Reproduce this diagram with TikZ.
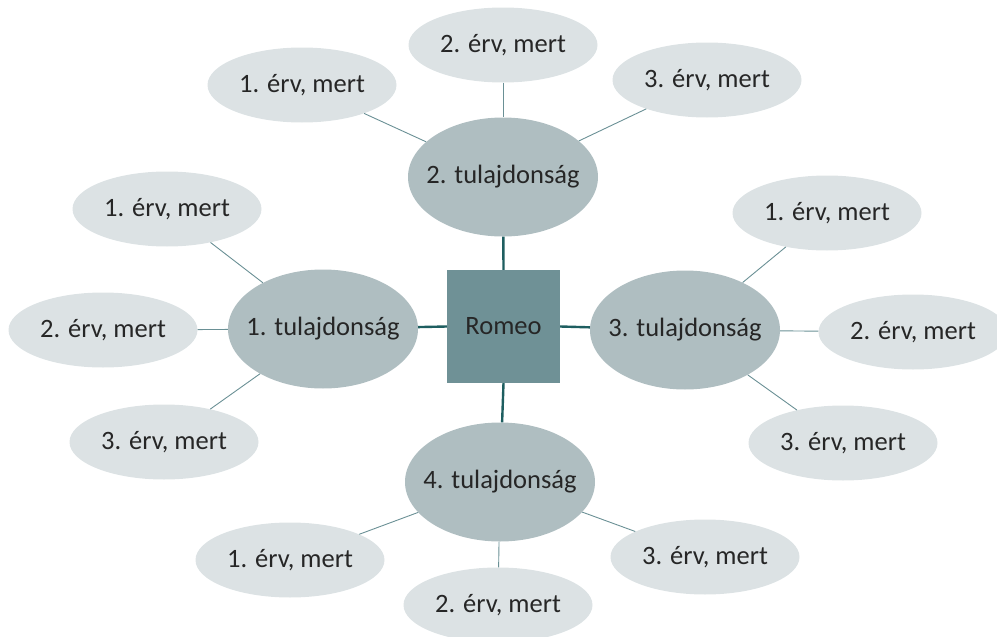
\documentclass[tikz,border=0pt]{standalone}
\usepackage{fontspec}
\setmainfont{Carlito}
\usetikzlibrary{shapes.geometric}
\definecolor{centerfill}{HTML}{6F9196}
\definecolor{propfill}{HTML}{AFBEC1}
\definecolor{leaffill}{HTML}{DCE2E4}
\definecolor{thickline}{HTML}{1E5E60}
\definecolor{thinline}{HTML}{6A9095}
\definecolor{txt}{HTML}{262626}
\tikzset{
  every node/.style={text=txt, font=\fontsize{26.5}{30}\selectfont},
  center/.style={rectangle, fill=centerfill, minimum width=113pt, minimum height=113pt, inner sep=0pt},
  prop/.style={ellipse, fill=propfill, minimum width=190pt, minimum height=119pt, inner sep=0pt},
  leaf/.style={ellipse, fill=leaffill, minimum width=189pt, minimum height=75pt, inner sep=0pt},
  thick link/.style={draw=thickline, line width=2.4pt},
  thin link/.style={draw=thinline, line width=0.9pt},
}
\begin{document}
\begin{tikzpicture}[x=1pt,y=-1pt]
\useasboundingbox (0,0) rectangle (997,637);
% center
\node[center] (c) at (503.5,326.5) {Romeo};
% properties
\node[prop] (p1) at (323,329) {\makebox[0pt]{1. tulajdonság}};
\node[prop] (p2) at (503,177) {\makebox[0pt]{2. tulajdonság}};
\node[prop] (p3) at (685,330) {\makebox[0pt]{3. tulajdonság}};
\node[prop] (p4) at (500,482) {\makebox[0pt]{4. tulajdonság}};
% leaves
\node[leaf] (a1) at (302,85) {\makebox[0pt]{1. érv, mert}};
\node[leaf] (a2) at (503,45) {\makebox[0pt]{2. érv, mert}};
\node[leaf] (a3) at (707,80) {\makebox[0pt]{3. érv, mert}};
\node[leaf] (b1) at (167,209) {\makebox[0pt]{1. érv, mert}};
\node[leaf] (b2) at (103,330) {\makebox[0pt]{2. érv, mert}};
\node[leaf] (b3) at (164,442) {\makebox[0pt]{3. érv, mert}};
\node[leaf] (r1) at (827,213) {\makebox[0pt]{1. érv, mert}};
\node[leaf] (r2) at (913,332) {\makebox[0pt]{2. érv, mert}};
\node[leaf] (r3) at (843,443) {\makebox[0pt]{3. érv, mert}};
\node[leaf] (d1) at (290,560) {\makebox[0pt]{1. érv, mert}};
\node[leaf] (d2) at (498,605) {\makebox[0pt]{2. érv, mert}};
\node[leaf] (d3) at (705,557) {\makebox[0pt]{3. érv, mert}};
% connectors
\draw[thick link] (c.north) -- (p2);
\draw[thick link] (c.west) -- (p1);
\draw[thick link] (c.east) -- (p3);
\draw[thick link] (c.south) -- (p4);
\draw[thin link] (a1) -- (p2);
\draw[thin link] (a2) -- (p2);
\draw[thin link] (a3) -- (p2);
\draw[thin link] (b1) -- (p1);
\draw[thin link] (b2) -- (p1);
\draw[thin link] (b3) -- (p1);
\draw[thin link] (r1) -- (p3);
\draw[thin link] (r2) -- (p3);
\draw[thin link] (r3) -- (p3);
\draw[thin link] (d1) -- (p4);
\draw[thin link] (d2) -- (p4);
\draw[thin link] (d3) -- (p4);
\end{tikzpicture}
\end{document}
